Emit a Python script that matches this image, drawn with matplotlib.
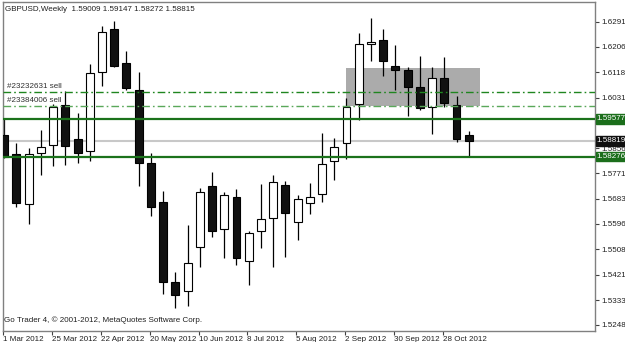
import matplotlib
matplotlib.use("Agg")
import matplotlib.pyplot as plt
from matplotlib.patches import Rectangle

plt.rcParams['font.family'] = ['Liberation Sans', 'DejaVu Sans']

symbol_title = "GBPUSD,Weekly  1.59009 1.59147 1.58272 1.58815"
footer = "Go Trader 4, \u00a9 2001-2012, MetaQuotes Software Corp."

opens = [1.59021, 1.58368, 1.56647, 1.58402, 1.58677, 1.60054, 1.58884, 1.58471, 1.61189, 1.62669,
         1.61499, 1.60570, 1.58058, 1.56716, 1.53963, 1.53653, 1.55167, 1.57266, 1.55787, 1.56888,
         1.54686, 1.55718, 1.56165, 1.57301, 1.56028, 1.56681, 1.56991, 1.58127, 1.58746, 1.60088,
         1.62153, 1.62291, 1.61396, 1.61258, 1.60673, 1.59985, 1.60983, 1.60054, 1.59009]
highs = [1.59606, 1.58746, 1.58574, 1.59193, 1.60088, 1.60536, 1.59779, 1.61465, 1.62772, 1.62944,
         1.61912, 1.61189, 1.58402, 1.57094, 1.54307, 1.55924, 1.57198, 1.57748, 1.57060, 1.57163,
         1.55718, 1.57335, 1.57645, 1.57438, 1.56957, 1.57370, 1.59090, 1.58918, 1.60295, 1.62531,
         1.63048, 1.62669, 1.62119, 1.61361, 1.61740, 1.61361, 1.61706, 1.60363, 1.59147]
lows = [1.58230, 1.56544, 1.55959, 1.57645, 1.57955, 1.57989, 1.58058, 1.58127, 1.60708, 1.61361,
        1.60570, 1.57266, 1.56234, 1.53550, 1.53068, 1.53137, 1.54479, 1.55511, 1.54789, 1.54548,
        1.53860, 1.55133, 1.54479, 1.54823, 1.55408, 1.56303, 1.56716, 1.57473, 1.58196, 1.59538,
        1.61568, 1.61052, 1.60570, 1.59675, 1.59882, 1.59056, 1.59985, 1.58781, 1.58272]
closes = [1.58264, 1.56681, 1.58368, 1.58608, 1.59985, 1.58643, 1.58402, 1.61155, 1.62566, 1.61396,
          1.60639, 1.58058, 1.56544, 1.53963, 1.53516, 1.54617, 1.57060, 1.55718, 1.56957, 1.54789,
          1.55649, 1.56131, 1.57404, 1.56337, 1.56819, 1.56888, 1.58023, 1.58608, 1.59985, 1.62153,
          1.62222, 1.61568, 1.61258, 1.60673, 1.59951, 1.60983, 1.60123, 1.58884, 1.58815]

date_tick_bars = [0, 4, 8, 12, 16, 20, 24, 28, 32, 36]
date_labels = ["1 Mar 2012", "25 Mar 2012", "22 Apr 2012", "20 May 2012", "10 Jun 2012",
               "8 Jul 2012", "5 Aug 2012", "2 Sep 2012", "30 Sep 2012", "28 Oct 2012"]

price_ticks = [1.62910, 1.62060, 1.61185, 1.60310, 1.59435, 1.58560, 1.57710, 1.56835,
               1.55960, 1.55085, 1.54210, 1.53335, 1.52485]

order_lines = [1.60501, 1.60019]
order_labels = ["#23232631 sell", "#23384006 sell"]
level_lines = [1.59577, 1.58276]
bid_price = 1.58819
zone_bars = [28.0, 38.9]
zone_prices = [1.60019, 1.61327]

fig = plt.figure(figsize=(6.25, 3.42), dpi=100)
ax = fig.add_axes([3/625, 11/342, 592/625, 329/342])
ax.set_xlim(0, 48.33)
ax.set_ylim(1.52277, 1.63598)

# zone rectangle
ax.add_patch(Rectangle((zone_bars[0], zone_prices[0]), zone_bars[1]-zone_bars[0],
                       zone_prices[1]-zone_prices[0], facecolor='#ababab', edgecolor='none', zorder=1))

# horizontal lines
ax.axhline(order_lines[0], color='#1f861f', lw=1.0, ls=(0, (5.5, 2.2, 1.2, 2.2)), zorder=4)
ax.axhline(order_lines[1], color='#5aa85a', lw=1.0, ls=(0, (5.5, 2.2, 1.2, 2.2)), zorder=4)
ax.axhline(level_lines[0], color='#1b721b', lw=1.6, zorder=4)
ax.axhline(level_lines[1], color='#1b721b', lw=1.6, zorder=4)
ax.axhline(bid_price, color='#c8c8c8', lw=1.5, zorder=1.5)

for i, (lv, lab) in enumerate(zip(order_lines, order_labels)):
    ax.text(0.25, lv + 0.0006, lab, fontsize=5.8, color='#303030', ha='left', va='bottom', zorder=6)

# candles
w = 0.65
for i in range(len(opens)):
    o, h, l, c = opens[i], highs[i], lows[i], closes[i]
    ax.vlines(i, l, h, color='black', lw=0.9, zorder=2)
    bot = min(o, c)
    ht = max(abs(c - o), 0.0002)
    face = 'white' if c > o else '#111111'
    ax.add_patch(Rectangle((i - w/2, bot), w, ht, facecolor=face, edgecolor='black',
                           lw=0.8, zorder=3))

# frame
for s in ax.spines.values():
    s.set_color('#808080')
    s.set_linewidth(1.0)

ax.yaxis.tick_right()
ax.set_yticks(price_ticks)
ax.set_yticklabels([f"{p:.5f}" for p in price_ticks])
ax.tick_params(axis='y', labelsize=5.8, length=3, width=0.8, color='#404040', pad=1.5,
               labelcolor='#202020')
ax.set_xticks([b - 0.1 for b in date_tick_bars])
ax.set_xticklabels(date_labels)
ax.tick_params(axis='x', labelsize=5.8, length=3, width=0.8, color='#404040', pad=0.5,
               labelcolor='#202020')
for t in ax.get_xticklabels():
    t.set_ha('left')

# price boxes on the right axis
def price_box(p, bg):
    ax.text(1.003, p, f"{p:.5f}", transform=ax.get_yaxis_transform(), fontsize=5.8,
            color='white', ha='left', va='center', zorder=10, clip_on=False,
            bbox=dict(boxstyle='square,pad=0.15', facecolor=bg, edgecolor=bg))

price_box(level_lines[0], '#1b6e1b')
price_box(bid_price, '#101010')
price_box(level_lines[1], '#1b6e1b')

ax.text(0.004, 0.988, symbol_title, transform=ax.transAxes, fontsize=5.8, color='#202020',
        ha='left', va='top', zorder=6)
ax.text(0.002, 0.02, footer, transform=ax.transAxes, fontsize=5.8, color='#202020',
        ha='left', va='bottom', zorder=6)

fig.savefig("out.png", dpi=100, facecolor='white')
